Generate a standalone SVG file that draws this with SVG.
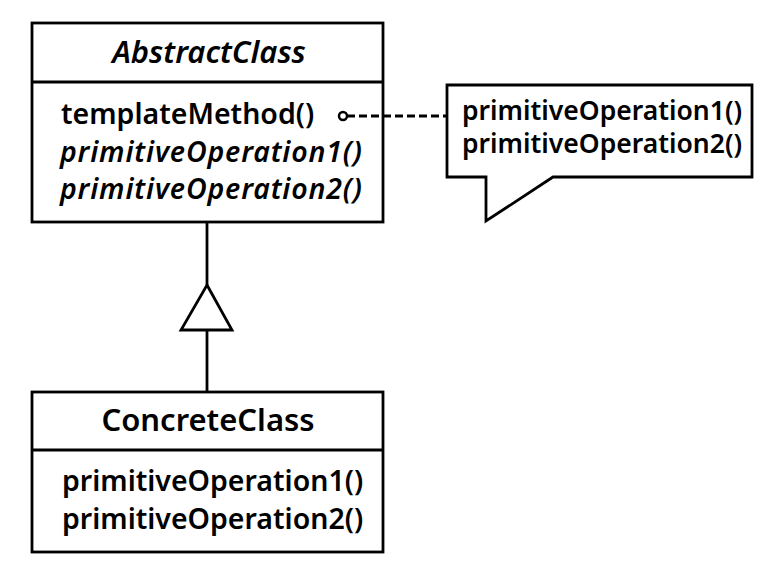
<svg xmlns="http://www.w3.org/2000/svg" width="781" height="566" viewBox="0 0 781 566">
<style>
.box{fill:#fff;stroke:#000;stroke-width:2.8}
.ln{fill:none;stroke:#000;stroke-width:2.8}
text{font-family:"Noto Sans","Open Sans","DejaVu Sans",sans-serif;font-weight:600;fill:#000}
.t{font-size:31px}
.m{font-size:28.5px}
.n{font-size:26.5px}
.i{font-style:italic}
</style>
<rect width="781" height="566" fill="#fff"/>
<g id="AbstractClass">
<rect class="box" x="32" y="23" width="351" height="199"/>
<line class="ln" x1="32" y1="82" x2="383" y2="82"/>
<text class="t i" x="209" y="63" text-anchor="middle">AbstractClass</text>
<text class="m" x="61" y="124">templateMethod()</text>
<text class="m i" x="60" y="162" textLength="302" lengthAdjust="spacing">primitiveOperation1()</text>
<text class="m i" x="60" y="199" textLength="302" lengthAdjust="spacing">primitiveOperation2()</text>
</g>
<g id="ConcreteClass">
<rect class="box" x="32" y="392" width="351" height="160"/>
<line class="ln" x1="32" y1="450" x2="383" y2="450"/>
<text class="t" x="208" y="431" text-anchor="middle">ConcreteClass</text>
<text class="m" x="62" y="491">primitiveOperation1()</text>
<text class="m" x="62" y="529">primitiveOperation2()</text>
</g>
<g id="Note">
<path class="box" d="M447,85 H752 V177 H553 L486,221 V177 H447 Z"/>
<text class="n" x="462" y="120">primitiveOperation1()</text>
<text class="n" x="462" y="153">primitiveOperation2()</text>
</g>
<g id="connectors">
<line class="ln" x1="207" y1="222" x2="207" y2="285"/>
<polygon class="box" points="207,285 232,330 181,330"/>
<line class="ln" x1="207" y1="330" x2="207" y2="392"/>
<line class="ln" x1="347" y1="116" x2="447" y2="116" stroke-dasharray="8,4"/>
<circle cx="343" cy="116" r="4" fill="#fff" stroke="#000" stroke-width="2.5"/>
</g>
</svg>
